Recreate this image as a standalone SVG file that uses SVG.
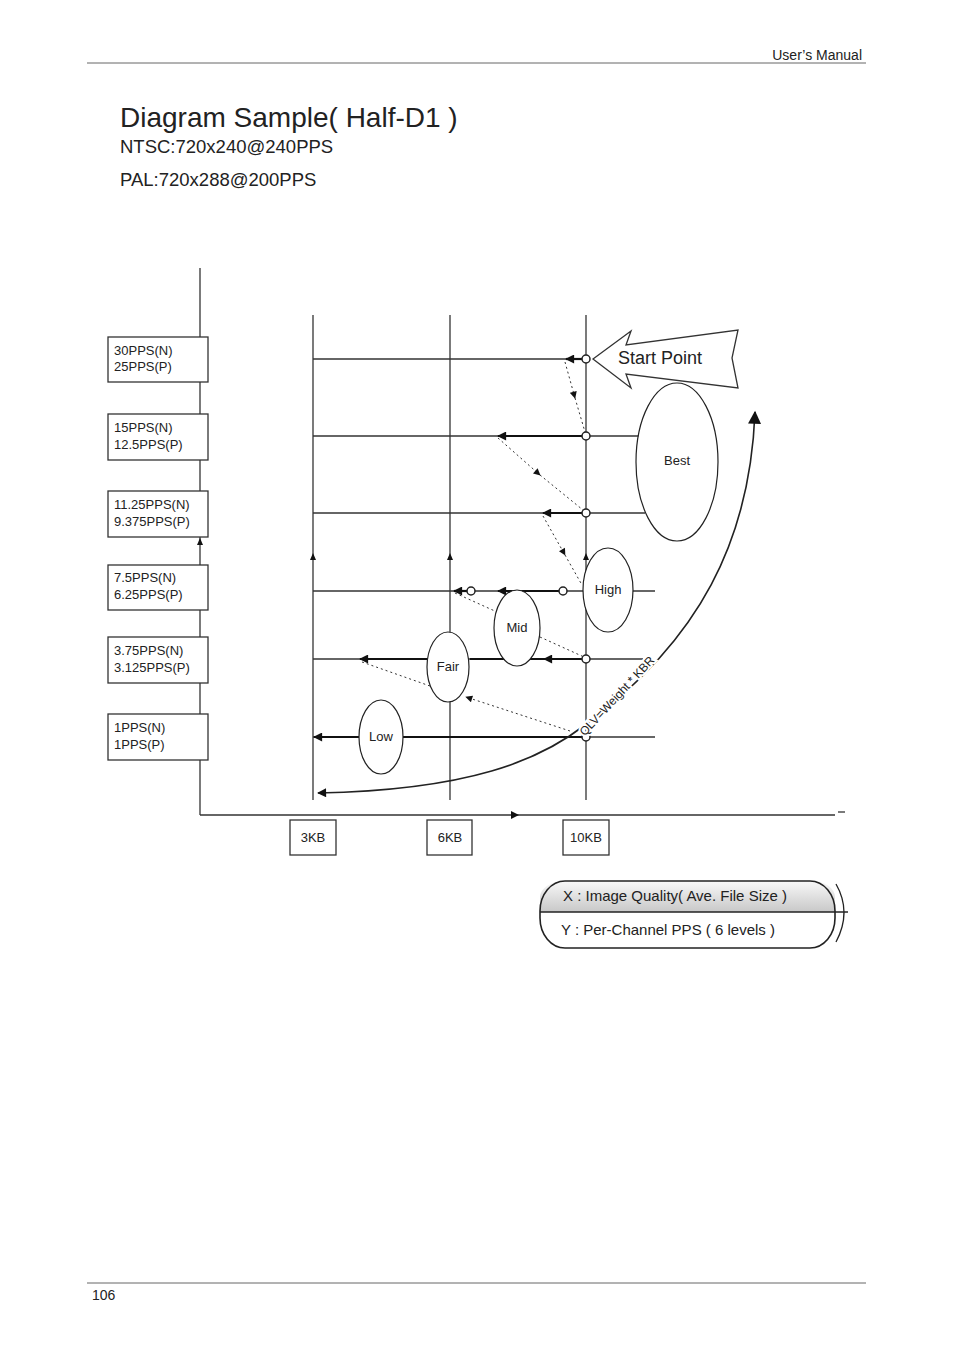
<svg xmlns="http://www.w3.org/2000/svg" width="954" height="1350" viewBox="0 0 954 1350">
<style>
text{font-family:"Liberation Sans",Arial,sans-serif;fill:#222}
.ln{stroke:#333;stroke-width:1.3;fill:none}
.th{stroke:#111;stroke-width:2.2;fill:none}
.dt{stroke:#333;stroke-width:1;stroke-dasharray:2 3;fill:none}
.bx{fill:#fff;stroke:#333;stroke-width:1.3}
.el{fill:#fff;stroke:#222;stroke-width:1.2}
.s{font-size:13px}
</style>
<defs>
<marker id="a" viewBox="0 0 10 10" refX="1" refY="5" markerWidth="12" markerHeight="9" orient="auto" markerUnits="userSpaceOnUse"><path d="M10,0 L0,5 L10,10 z" fill="#111"/></marker>
<marker id="d" viewBox="0 0 10 10" refX="9" refY="5" markerWidth="8" markerHeight="7" orient="auto" markerUnits="userSpaceOnUse"><path d="M0,0 L10,5 L0,10 z" fill="#111"/></marker>
<marker id="big" viewBox="0 0 10 10" refX="9" refY="5" markerWidth="15" markerHeight="13" orient="auto" markerUnits="userSpaceOnUse"><path d="M0,0 L10,5 L0,10 z" fill="#111"/></marker>
<linearGradient id="g" x1="0" y1="0" x2="0" y2="1"><stop offset="0" stop-color="#f8f8f8"/><stop offset="1" stop-color="#c8c8c8"/></linearGradient>
</defs>
<line x1="87" y1="63" x2="866" y2="63" stroke="#666"/>
<text x="862" y="60" font-size="14" text-anchor="end">User’s Manual</text>
<line x1="87" y1="1283" x2="866" y2="1283" stroke="#666"/>
<text x="92" y="1300" font-size="14">106</text>
<text x="120" y="127" font-size="28">Diagram Sample( Half-D1 )</text>
<text x="120" y="153" font-size="18.5">NTSC:720x240@240PPS</text>
<text x="120" y="186" font-size="18.5">PAL:720x288@200PPS</text>
<g id="connectors">
<line class="ln" x1="200" y1="268" x2="200" y2="815"/>
<line class="ln" x1="200" y1="815" x2="835" y2="815"/>
<line class="ln" x1="838" y1="812" x2="845" y2="812"/>
<path d="M511,811 L519,815 L511,819z" fill="#111"/>
<path d="M197,545 L200,538 L203,545z" fill="#111"/>
<line class="ln" x1="313" y1="315" x2="313" y2="800"/>
<line class="ln" x1="450" y1="315" x2="450" y2="800"/>
<line class="ln" x1="586" y1="315" x2="586" y2="800"/>
<path d="M310,560 L313,553 L316,560z M447,560 L450,553 L453,560z M583,560 L586,553 L589,560z" fill="#111"/>
<line class="ln" x1="313" y1="359" x2="586" y2="359"/>
<line class="ln" x1="313" y1="436" x2="640" y2="436"/>
<line class="ln" x1="313" y1="513" x2="645" y2="513"/>
<line class="ln" x1="313" y1="591" x2="655" y2="591"/>
<line class="ln" x1="313" y1="659" x2="643" y2="659"/>
<line class="ln" x1="313" y1="737" x2="655" y2="737"/>
<line class="th" x1="566" y1="359" x2="583" y2="359" marker-start="url(#a)"/>
<line class="th" x1="498" y1="436" x2="583" y2="436" marker-start="url(#a)"/>
<line class="th" x1="543" y1="513" x2="583" y2="513" marker-start="url(#a)"/>
<line class="th" x1="454" y1="591" x2="468" y2="591" marker-start="url(#a)"/>
<line class="th" x1="498" y1="591" x2="560" y2="591" marker-start="url(#a)"/>
<line class="th" x1="360" y1="659" x2="428" y2="659" marker-start="url(#a)"/>
<line class="th" x1="470" y1="659" x2="583" y2="659"/>
<line class="th" x1="544" y1="659" x2="583" y2="659" marker-start="url(#a)"/>
<line class="th" x1="314" y1="737" x2="583" y2="737" marker-start="url(#a)"/>
<polyline class="dt" points="565,362 575,398" marker-end="url(#d)"/><line class="dt" x1="575" y1="398" x2="585" y2="432"/>
<polyline class="dt" points="498,438 540,475" marker-end="url(#d)"/><line class="dt" x1="540" y1="475" x2="583" y2="510"/>
<polyline class="dt" points="543,516 565,555" marker-end="url(#d)"/><line class="dt" x1="565" y1="555" x2="582" y2="585"/>
<line class="dt" x1="455" y1="593" x2="497" y2="612"/>
<line class="dt" x1="540" y1="637" x2="584" y2="657"/>
<line class="dt" x1="362" y1="662" x2="430" y2="686"/>
<polyline class="dt" points="570,731 466,697" marker-end="url(#d)"/>
<path d="M318,793 C470,790 540,760 585,725 C700,640 750,540 755,412" fill="none" stroke="#222" stroke-width="1.6" marker-start="url(#a)" marker-end="url(#big)"/>
</g>
<g fill="#fff" stroke="#222" stroke-width="1.5">
<circle cx="586" cy="359" r="4"/><circle cx="586" cy="436" r="4"/><circle cx="586" cy="513" r="4"/>
<circle cx="563" cy="591" r="4"/><circle cx="471" cy="591" r="4"/><circle cx="586" cy="659" r="4"/><circle cx="586" cy="737" r="4"/>
</g>
<g id="start"><polygon points="593,359 631,331 626,345 738,330 732,358 738,388 626,374 631,388" fill="#fff" stroke="#333" stroke-width="1.3"/><text x="618" y="364" font-size="18">Start Point</text></g>
<g id="best"><ellipse class="el" cx="677" cy="462" rx="41" ry="79"/><text x="677" y="465" class="s" text-anchor="middle">Best</text></g>
<g id="high"><ellipse class="el" cx="608" cy="590" rx="25" ry="42"/><text x="608" y="594" class="s" text-anchor="middle">High</text></g>
<g id="mid"><ellipse class="el" cx="517" cy="628" rx="23" ry="38"/><text x="517" y="632" class="s" text-anchor="middle">Mid</text></g>
<g id="fair"><ellipse class="el" cx="448" cy="667" rx="21" ry="35"/><text x="448" y="671" class="s" text-anchor="middle">Fair</text></g>
<g id="low"><ellipse class="el" cx="381" cy="737" rx="22" ry="37"/><text x="381" y="741" class="s" text-anchor="middle">Low</text></g>
<text x="617" y="700" font-size="12" text-anchor="middle" transform="rotate(-47 617 696)" stroke="#fff" stroke-width="4" paint-order="stroke">QLV=Weight * KBR</text>
<g id="y-labels" class="s">
<g id="l30"><rect class="bx" x="108" y="337" width="100" height="45"/><text x="114" y="355">30PPS(N)</text><text x="114" y="371">25PPS(P)</text></g>
<g id="l15"><rect class="bx" x="108" y="414" width="100" height="46"/><text x="114" y="432">15PPS(N)</text><text x="114" y="449">12.5PPS(P)</text></g>
<g id="l11"><rect class="bx" x="108" y="491" width="100" height="46"/><text x="114" y="509">11.25PPS(N)</text><text x="114" y="526">9.375PPS(P)</text></g>
<g id="l7"><rect class="bx" x="108" y="565" width="100" height="45"/><text x="114" y="582">7.5PPS(N)</text><text x="114" y="599">6.25PPS(P)</text></g>
<g id="l3"><rect class="bx" x="108" y="637" width="100" height="46"/><text x="114" y="655">3.75PPS(N)</text><text x="114" y="672">3.125PPS(P)</text></g>
<g id="l1"><rect class="bx" x="108" y="714" width="100" height="46"/><text x="114" y="732">1PPS(N)</text><text x="114" y="749">1PPS(P)</text></g>
</g>
<g id="x-labels" class="s">
<g id="k3"><rect class="bx" x="290" y="820" width="46" height="35"/><text x="313" y="842" text-anchor="middle">3KB</text></g>
<g id="k6"><rect class="bx" x="427" y="820" width="45" height="35"/><text x="450" y="842" text-anchor="middle">6KB</text></g>
<g id="k10"><rect class="bx" x="563" y="820" width="46" height="35"/><text x="586" y="842" text-anchor="middle">10KB</text></g>
</g>
<g id="legend">
<path d="M565,881 H812 A23,16 0 0 1 835,897 V912 H540 V897 A25,16 0 0 1 565,881z" fill="url(#g)"/>
<rect x="540" y="881" width="295" height="67" rx="25" ry="30" fill="none" stroke="#222" stroke-width="1.6"/>
<line x1="540" y1="912" x2="848" y2="912" stroke="#222" stroke-width="1.6"/>
<path d="M836,884 Q852,912 836,942" fill="none" stroke="#222" stroke-width="1.3"/>
<text x="563" y="901" font-size="15">X : Image Quality( Ave. File Size )</text>
<text x="561" y="935" font-size="15">Y : Per-Channel PPS ( 6 levels )</text>
</g>
</svg>
